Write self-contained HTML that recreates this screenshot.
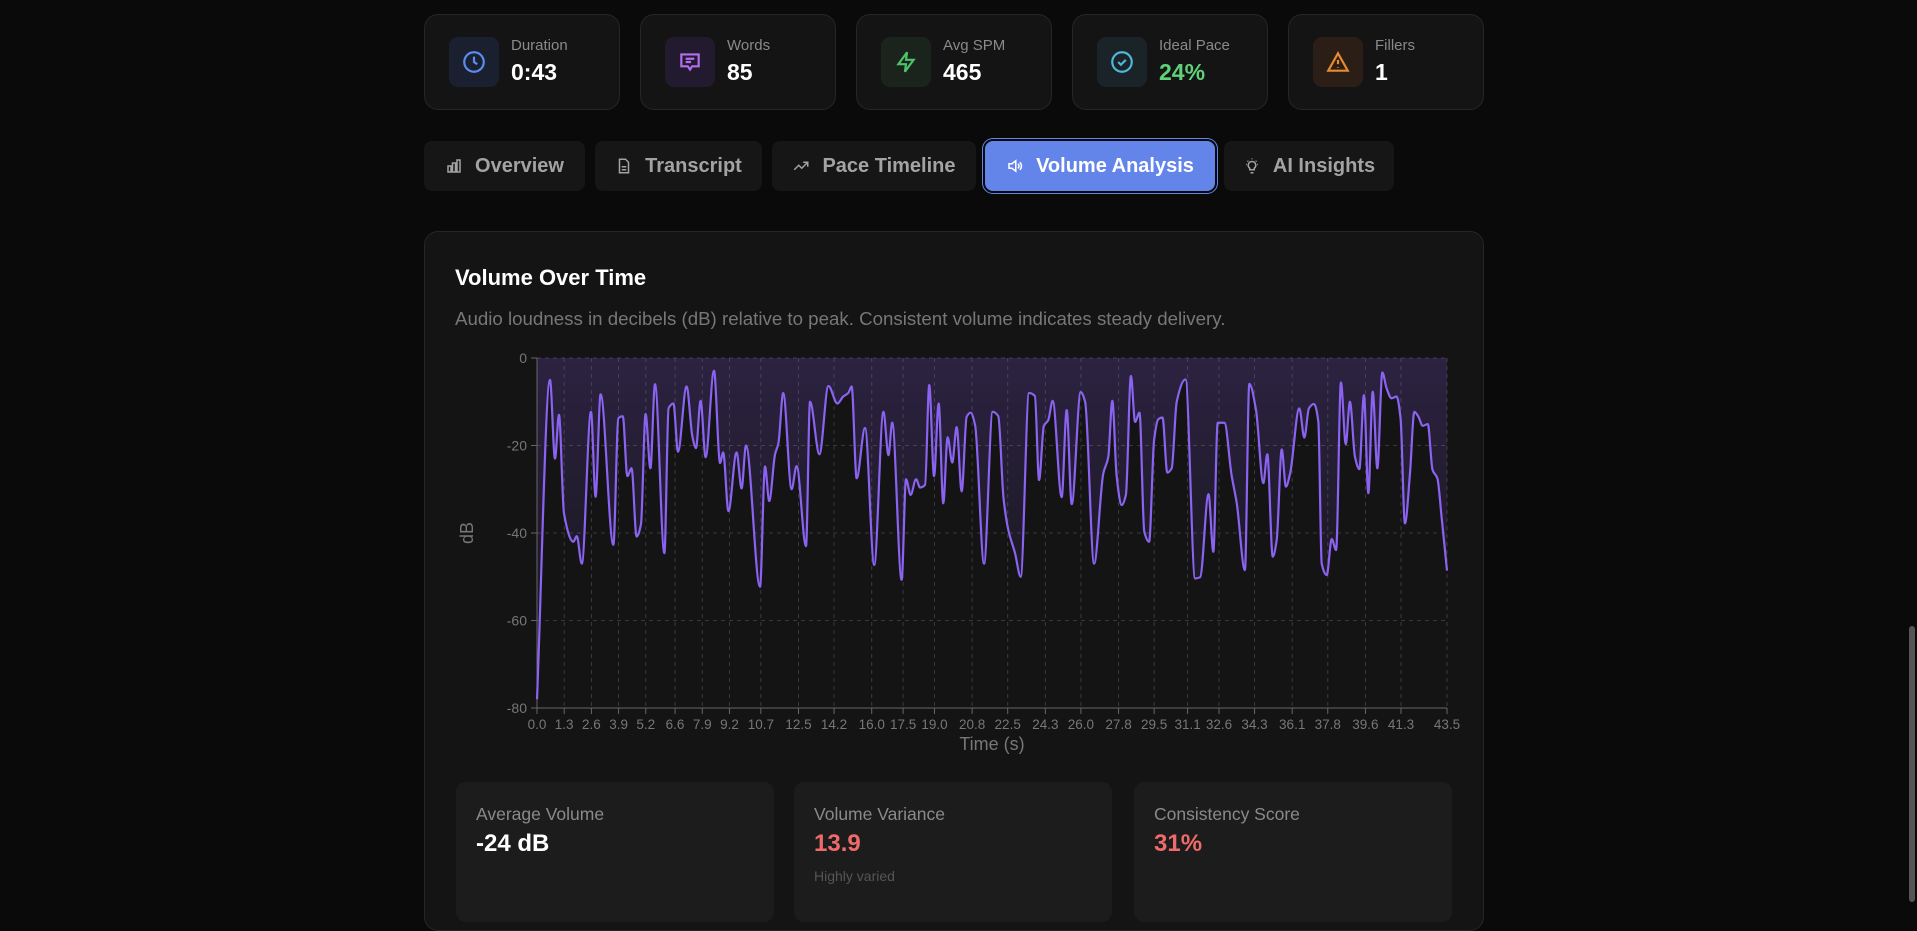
<!DOCTYPE html>
<html><head><meta charset="utf-8">
<style>
*{box-sizing:border-box;margin:0;padding:0}
body{width:1917px;height:902px;overflow:hidden;background:#0a0a0a;font-family:"Liberation Sans",sans-serif;position:relative}
.card{position:absolute;top:14px;width:196px;height:96px;background:#141414;border:1px solid #262626;border-radius:14px}
.ibox{position:absolute;left:24px;top:22px;width:50px;height:50px;border-radius:9px;display:flex;align-items:center;justify-content:center}
.lbl{position:absolute;left:86px;top:22px;font-size:15px;color:#8a8a8a}
.val{position:absolute;left:86px;top:44px;font-size:23px;font-weight:bold;color:#fff}
.tab{position:absolute;top:141px;height:50px;background:#161616;border-radius:8px;color:#a3a3a3;font-size:20px;font-weight:bold;display:flex;align-items:center;justify-content:center;gap:12px}
.panel{position:absolute;left:424px;top:231px;width:1060px;height:700px;background:#141414;border:1px solid #262626;border-radius:14px}
.bc{position:absolute;top:782px;width:318px;height:140px;background:#1c1c1c;border-radius:10px}
.bc .l{position:absolute;left:20px;top:22px;font-size:17.5px;color:#8a8a8a}
.bc .v{position:absolute;left:20px;top:48px;font-size:24px;font-weight:bold}
</style></head><body>
<div class="card" style="left:424px"><div class="ibox" style="background:#1a2030"><svg width="26" height="26" viewBox="0 0 24 24" fill="none" stroke="#5b8def" stroke-width="2"><circle cx="12" cy="12" r="9"/><path d="M12 7v5l3 2"/></svg></div><div class="lbl">Duration</div><div class="val">0:43</div></div>
<div class="card" style="left:640px"><div class="ibox" style="background:#221a2e"><svg width="26" height="26" viewBox="0 0 24 24" fill="none" stroke="#b46ef0" stroke-width="2"><path d="M4 5h16v11h-6l-2 3-2-3H4z"/><path d="M8 9h8M8 12h5"/></svg></div><div class="lbl">Words</div><div class="val">85</div></div>
<div class="card" style="left:856px"><div class="ibox" style="background:#1a231c"><svg width="26" height="26" viewBox="0 0 24 24" fill="none" stroke="#4ec46a" stroke-width="2"><path d="M13 3L5 14h7l-1 7 8-11h-7z"/></svg></div><div class="lbl">Avg SPM</div><div class="val">465</div></div>
<div class="card" style="left:1072px"><div class="ibox" style="background:#1a2428"><svg width="26" height="26" viewBox="0 0 24 24" fill="none" stroke="#4fb8d8" stroke-width="2"><circle cx="12" cy="12" r="9"/><path d="M8.5 12l2.5 2.5 4.5-4.5"/></svg></div><div class="lbl">Ideal Pace</div><div class="val" style="color:#5fd178">24%</div></div>
<div class="card" style="left:1288px"><div class="ibox" style="background:#2a1e16"><svg width="26" height="26" viewBox="0 0 24 24" fill="none" stroke="#e88a2e" stroke-width="2"><path d="M12 4L3 20h18z"/><path d="M12 10v4M12 17v.5"/></svg></div><div class="lbl">Fillers</div><div class="val">1</div></div>

<div class="tab" style="left:424px;width:161px"><svg width="18" height="18" viewBox="0 0 24 24" fill="none" stroke="#a3a3a3" stroke-width="2"><path d="M4 20V12h4v8zM10 20V8h4v12zM16 20V4h4v16z"/></svg>Overview</div>
<div class="tab" style="left:595px;width:167px"><svg width="18" height="18" viewBox="0 0 24 24" fill="none" stroke="#a3a3a3" stroke-width="2"><path d="M6 3h8l4 4v14H6z"/><path d="M9 13h6M9 17h6"/></svg>Transcript</div>
<div class="tab" style="left:772px;width:204px"><svg width="18" height="18" viewBox="0 0 24 24" fill="none" stroke="#a3a3a3" stroke-width="2"><path d="M3 17l6-6 4 4 8-8M15 7h6v6"/></svg>Pace Timeline</div>
<div class="tab" style="left:985px;width:230px;background:#6385ea;color:#fff;box-shadow:0 0 0 2px #0a0a0a,0 0 0 3px #6385ea"><svg width="18" height="18" viewBox="0 0 24 24" fill="none" stroke="#fff" stroke-width="2"><path d="M4 9h4l5-4v14l-5-4H4z"/><path d="M16 9a4 4 0 010 6M18.5 7a7 7 0 010 10"/></svg>Volume Analysis</div>
<div class="tab" style="left:1224px;width:170px"><svg width="18" height="18" viewBox="0 0 24 24" fill="none" stroke="#a3a3a3" stroke-width="2"><path d="M9 17h6M10 21h4M12 6a5 5 0 00-3 9v2h6v-2a5 5 0 00-3-9zM12 2v1M4 10h1M19 10h1M6 5l1 1M18 5l-1 1"/></svg>AI Insights</div>

<div class="panel">
<div style="position:absolute;left:30px;top:33px;font-size:22px;font-weight:bold;color:#fff">Volume Over Time</div>
<div style="position:absolute;left:30px;top:76px;font-size:18.7px;color:#777">Audio loudness in decibels (dB) relative to peak. Consistent volume indicates steady delivery.</div>
</div>

<svg id="chart" width="1917" height="902" style="position:absolute;left:0;top:0">
<defs><linearGradient id="g" x1="0" y1="0" x2="0" y2="1"><stop offset="0" stop-color="#8b5cf6" stop-opacity="0.2"/><stop offset="0.55" stop-color="#8b5cf6" stop-opacity="0.09"/><stop offset="1" stop-color="#8b5cf6" stop-opacity="0.04"/></linearGradient></defs>
</svg>

<div class="bc" style="left:456px"><div class="l">Average Volume</div><div class="v" style="color:#fff">-24 dB</div></div>
<div class="bc" style="left:794px"><div class="l">Volume Variance</div><div class="v" style="color:#ef6a6a">13.9</div><div style="position:absolute;left:20px;top:86px;font-size:14px;color:#555">Highly varied</div></div>
<div class="bc" style="left:1134px"><div class="l">Consistency Score</div><div class="v" style="color:#ef6a6a">31%</div></div>
<div style="position:absolute;left:1909px;top:626px;width:6px;height:276px;background:#555;border-radius:3px"></div>

<script>
const times=[0,0.62,0.86,1.05,1.29,1.74,1.9,2.14,2.58,2.8,3.04,3.65,3.89,4.1,4.32,4.52,4.76,4.97,5.19,5.42,5.64,6.09,6.29,6.52,6.74,7.15,7.43,7.6,7.82,8.06,8.46,8.75,8.9,9.15,9.54,9.78,9.99,10.66,10.9,11.1,11.38,11.54,11.77,12.17,12.41,12.86,13.05,13.5,13.93,14.36,14.64,14.88,15.04,15.28,15.68,16.12,16.56,16.8,16.98,17.43,17.64,17.86,18.12,18.31,18.55,18.75,18.98,19.2,19.42,19.63,19.85,20.06,20.3,20.54,20.73,20.94,21.37,21.78,22.05,22.3,22.53,22.85,23.12,23.52,23.8,24.0,24.23,24.44,24.65,25.08,25.32,25.56,25.99,26.2,26.63,27.07,27.31,27.5,27.71,27.95,28.15,28.39,28.59,28.8,29.03,29.26,29.5,29.7,29.9,30.13,30.34,30.58,31.0,31.46,31.7,32.1,32.33,32.54,32.86,33.2,33.45,33.84,34.05,34.37,34.72,34.91,35.17,35.36,35.6,35.8,36.0,36.44,36.68,36.9,37.14,37.35,37.51,37.75,37.99,38.2,38.43,38.66,38.86,39.1,39.31,39.53,39.74,39.95,40.17,40.41,40.61,40.85,41.09,41.28,41.49,41.73,41.94,42.13,42.34,42.58,42.81,43.04,43.24,43.5];
const volumes=[-78,-5,-23,-13,-35.5,-42,-40.7,-47,-12.3,-31.7,-8.3,-42.7,-13.8,-13.3,-27,-25.2,-40.8,-38,-12.8,-25.2,-6,-44.6,-11.5,-10.4,-21.4,-6.5,-18,-20.6,-9.8,-22.7,-2.9,-24,-21.6,-35,-21.6,-29.8,-20,-52.3,-24.8,-32.7,-22,-19.5,-8,-30,-24.7,-43,-10,-22,-6.4,-10.4,-8.8,-8,-6.5,-27.5,-16,-47.3,-12.3,-22.2,-14.8,-50.7,-27.7,-31.3,-27.7,-29.6,-29,-6.2,-27,-10.4,-33.2,-18.1,-23.9,-15.8,-30.5,-13.4,-12.5,-15.3,-47,-12.3,-13.3,-32,-39.3,-44.6,-50,-8,-8.7,-27.9,-15.5,-14.2,-9.8,-31.8,-11.9,-33.4,-7.8,-10,-47,-26.4,-22.6,-9.8,-27.1,-33.6,-31.3,-4.1,-14.6,-12.5,-39.7,-42,-18.7,-14,-13.6,-26.2,-25.2,-10,-4.9,-50.4,-50.1,-31.1,-44.3,-14.8,-14.8,-26.7,-33.2,-48.5,-5.9,-11.9,-28.6,-22,-45.4,-41.6,-20.9,-29.4,-26.4,-11.5,-18.2,-11.5,-10.5,-14.6,-47,-49.6,-41.4,-43.9,-5.6,-19.7,-10,-22.6,-25.4,-8.5,-30.9,-7.7,-25.2,-3.3,-6.9,-9.2,-8.8,-13.8,-37.8,-26.4,-12.3,-13.4,-15.5,-15.1,-25.6,-27.5,-36.3,-48.6];
const xTickLabels=["0.0","1.3","2.6","3.9","5.2","6.6","7.9","9.2","10.7","12.5","14.2","16.0","17.5","19.0","20.8","22.5","24.3","26.0","27.8","29.5","31.1","32.6","34.3","36.1","37.8","39.6","41.3","43.5"];
const yTicks=[0,-20,-40,-60,-80];

const X0=537,X1=1447,Y0=358,Y1=708,TMAX=43.5;
const sx=t=>X0+(t/TMAX)*(X1-X0);
const sy=v=>Y0+(v/-80)*(Y1-Y0);
const svg=document.getElementById('chart');
const NS='http://www.w3.org/2000/svg';
function mk(tag,attrs){const e=document.createElementNS(NS,tag);for(const k in attrs)e.setAttribute(k,attrs[k]);svg.appendChild(e);return e;}

yTicks.forEach(v=>{
  const y=sy(v);
  const gl=mk('line',{x1:X0,x2:X1,y1:y,y2:y,stroke:'#3a3a3a','stroke-dasharray':'4 4'});
  
  
  const tk=mk('line',{x1:X0-6,x2:X0,y1:y,y2:y,stroke:'#666'});
  
  
  const tl=mk('text',{x:X0-10,y:y+5,'text-anchor':'end','font-size':'14','fill':'#777','font-family':'Liberation Sans, sans-serif'});
  tl.textContent=v;
  
  
});
xTickLabels.forEach(s=>{
  const x=sx(parseFloat(s));
  const gl=mk('line',{x1:x,x2:x,y1:Y0,y2:Y1,stroke:'#3a3a3a','stroke-dasharray':'4 4'});
  
  
  const tk=mk('line',{x1:x,x2:x,y1:Y1,y2:Y1+6,stroke:'#666'});
  
  
  const tl=mk('text',{x:x,y:Y1+21,'text-anchor':'middle','font-size':'13.5','fill':'#777','font-family':'Liberation Sans, sans-serif'});
  tl.textContent=s;
  
  
});
const ax=mk('line',{x1:X0,x2:X0,y1:Y0,y2:Y1,stroke:'#666'});


const bx=mk('line',{x1:X0,x2:X1,y1:Y1,y2:Y1,stroke:'#666'});


const yt=mk('text',{x:0,y:0,transform:'translate(473,533) rotate(-90)','text-anchor':'middle','font-size':'18','fill':'#777','font-family':'Liberation Sans, sans-serif'});
yt.textContent='dB';


const xt=mk('text',{x:(X0+X1)/2,y:750,'text-anchor':'middle','font-size':'18','fill':'#777','font-family':'Liberation Sans, sans-serif'});
xt.textContent='Time (s)';



function monotonePath(px,py){
  const n=px.length,m=new Array(n),d=[];
  for(let i=0;i<n-1;i++)d.push((py[i+1]-py[i])/(px[i+1]-px[i]));
  m[0]=d[0];m[n-1]=d[n-2];
  for(let i=1;i<n-1;i++){
    if(d[i-1]*d[i]<=0)m[i]=0;
    else{const h0=px[i]-px[i-1],h1=px[i+1]-px[i];m[i]=3*(h0+h1)/((2*h1+h0)/d[i-1]+(h1+2*h0)/d[i]);}
  }
  let s='M'+px[0]+','+py[0];
  for(let i=0;i<n-1;i++){
    const h=(px[i+1]-px[i])/3;
    s+='C'+(px[i]+h)+','+(py[i]+m[i]*h)+','+(px[i+1]-h)+','+(py[i+1]-m[i+1]*h)+','+px[i+1]+','+py[i+1];
  }
  return s;
}
const px=times.map(sx),py=volumes.map(sy);
const lineD=monotonePath(px,py);
const area=mk('path',{d:lineD+'L'+px[px.length-1]+','+Y0+'L'+px[0]+','+Y0+'Z',fill:'url(#g)'});


const line=mk('path',{d:lineD,fill:'none',stroke:'#8a63f0','stroke-width':'2.2'});


</script>
</body></html>
